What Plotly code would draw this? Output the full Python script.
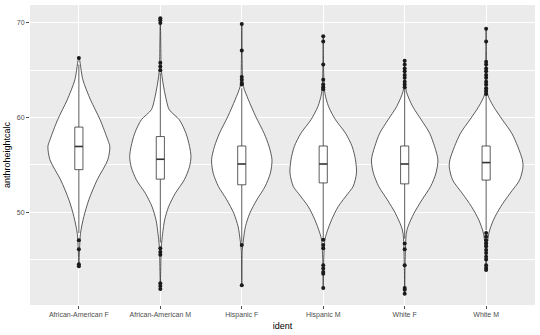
import plotly.graph_objects as go

categories = ["African-American F", "African-American M", "Hispanic F",
              "Hispanic M", "White F", "White M"]

# Violin outlines: heights (y) and half-widths (in category units)
violin_y = {
    "African-American F": [66.3, 64.0, 61.88, 59.77, 57.65, 56.95, 55.54, 53.42, 51.31, 49.54, 47.78, 46.5, 44.3],
    "African-American M": [70.5, 68.0, 65.06, 63.65, 61.88, 60.83, 59.77, 58.36, 56.95, 55.89, 54.83, 53.42, 52.01, 50.60, 49.19, 47.78, 46.37, 44.0, 41.9],
    "Hispanic F": [69.9, 64.5, 63.30, 61.88, 60.12, 58.36, 56.95, 55.54, 54.13, 52.72, 51.31, 49.89, 48.49, 47.07, 46.0, 42.3],
    "Hispanic M": [68.6, 64.5, 62.59, 61.18, 59.77, 58.36, 56.95, 55.54, 54.13, 52.72, 52.01, 50.60, 49.19, 47.78, 47.07, 45.0, 42.0],
    "White F": [66.0, 64.0, 62.77, 61.18, 59.77, 58.36, 56.95, 55.54, 54.13, 52.72, 51.31, 49.89, 48.49, 47.78, 45.0, 41.4],
    "White M": [69.4, 64.0, 62.42, 61.18, 59.77, 58.36, 56.95, 55.54, 54.83, 53.42, 52.01, 50.60, 49.19, 47.78, 46.0, 43.9],
}
violin_hw = {
    "African-American F": [0.0, 0.049, 0.143, 0.261, 0.355, 0.380, 0.355, 0.224, 0.122, 0.061, 0.020, 0.010, 0.0],
    "African-American M": [0.0, 0.005, 0.012, 0.033, 0.073, 0.110, 0.233, 0.314, 0.359, 0.376, 0.359, 0.294, 0.184, 0.102, 0.053, 0.029, 0.012, 0.005, 0.0],
    "Hispanic F": [0.0, 0.008, 0.020, 0.082, 0.171, 0.273, 0.335, 0.371, 0.351, 0.286, 0.184, 0.098, 0.045, 0.020, 0.006, 0.0],
    "Hispanic M": [0.0, 0.006, 0.020, 0.065, 0.151, 0.273, 0.355, 0.396, 0.408, 0.367, 0.306, 0.184, 0.102, 0.041, 0.020, 0.006, 0.0],
    "White F": [0.0, 0.006, 0.020, 0.098, 0.204, 0.306, 0.367, 0.408, 0.384, 0.318, 0.212, 0.114, 0.041, 0.020, 0.006, 0.0],
    "White M": [0.0, 0.008, 0.020, 0.090, 0.200, 0.314, 0.388, 0.445, 0.453, 0.412, 0.294, 0.180, 0.090, 0.033, 0.008, 0.0],
}

# Box statistics
q1 = [54.5, 53.5, 52.9, 53.1, 53.0, 53.4]
median = [56.95, 55.6, 55.1, 55.1, 55.1, 55.25]
q3 = [59.0, 58.0, 57.0, 57.0, 57.0, 57.0]
lower_whisker = [47.8, 46.8, 46.8, 47.3, 47.2, 48.1]
upper_whisker = [65.6, 64.7, 63.1, 62.8, 63.0, 62.3]

# Outliers
outliers = {
    "African-American F": [66.3, 47.05, 46.1, 44.5, 44.3],
    "African-American M": [70.5, 70.3, 70.0, 65.8, 65.4, 65.0, 46.2, 45.8, 45.5, 42.5, 42.2, 41.9],
    "Hispanic F": [69.9, 67.1, 64.3, 64.0, 63.65, 63.5, 46.55, 42.3],
    "Hispanic M": [68.6, 68.05, 65.6, 64.0, 63.5, 63.2, 63.0, 47.1, 46.55, 46.2, 44.4, 44.05, 43.7, 43.5, 42.0],
    "White F": [66.0, 65.6, 65.2, 64.9, 64.5, 64.2, 63.8, 63.5, 63.2, 46.7, 46.1, 44.4, 42.0, 41.8, 41.4],
    "White M": [69.4, 68.05, 65.9, 65.6, 65.2, 64.9, 64.5, 64.2, 63.8, 63.5, 63.1, 62.8, 62.5,
                47.8, 47.4, 47.05, 46.7, 46.4, 46.0, 45.7, 45.3, 45.0, 44.4, 44.1, 43.9],
}

LINE = "#333333"
BOX_W = 0.1

fig = go.Figure()

def add_line(xs, ys, width=0.8):
    fig.add_trace(go.Scatter(x=xs, y=ys, mode="lines", line=dict(color=LINE, width=width),
                             hoverinfo="skip", showlegend=False))

for i, cat in enumerate(categories):
    ys = violin_y[cat]
    hw = violin_hw[cat]
    xs = [i + h for h in hw] + [i - h for h in reversed(hw)]
    yy = ys + list(reversed(ys))
    fig.add_trace(go.Scatter(x=xs, y=yy, mode="lines", fill="toself",
                             fillcolor="white", line=dict(color=LINE, width=0.8, shape="spline", smoothing=0.8),
                             hoverinfo="skip", showlegend=False))

for i, cat in enumerate(categories):
    # whiskers
    add_line([i, i], [q3[i], upper_whisker[i]])
    add_line([i, i], [q1[i], lower_whisker[i]])
    # box
    h = BOX_W / 2
    fig.add_trace(go.Scatter(x=[i - h, i + h, i + h, i - h, i - h],
                             y=[q1[i], q1[i], q3[i], q3[i], q1[i]],
                             mode="lines", fill="toself", fillcolor="white",
                             line=dict(color=LINE, width=0.8),
                             hoverinfo="skip", showlegend=False))
    # median
    add_line([i - h, i + h], [median[i], median[i]], width=1.6)
    # outliers
    fig.add_trace(go.Scatter(x=[i] * len(outliers[cat]), y=outliers[cat], mode="markers",
                             marker=dict(color="#1a1a1a", size=4),
                             hoverinfo="skip", showlegend=False))

fig.update_layout(
    width=540, height=335,
    margin=dict(l=30, r=5, t=5, b=30),
    paper_bgcolor="white", plot_bgcolor="#EBEBEB",
    font=dict(family="Arial, Liberation Sans, sans-serif", size=7, color="#4D4D4D"),
    showlegend=False,
)
fig.update_xaxes(
    range=[-0.6, len(categories) - 0.4],
    tickmode="array", tickvals=list(range(len(categories))), ticktext=categories,
    showgrid=True, gridcolor="white", gridwidth=1, zeroline=False,
    ticks="outside", ticklen=3, tickcolor="#4D4D4D", tickwidth=0.8,
    tickfont=dict(size=7, color="#4D4D4D"),
    title=dict(text="ident", font=dict(size=9, color="black"), standoff=4),
)
fig.update_yaxes(
    range=[40.2, 71.9],
    tickmode="array", tickvals=[50, 60, 70],
    showgrid=True, gridcolor="white", gridwidth=1, zeroline=False,
    minor=dict(tickvals=[45, 55, 65], showgrid=True, gridcolor="white", gridwidth=0.5),
    ticks="outside", ticklen=3, tickcolor="#4D4D4D", tickwidth=0.8,
    tickfont=dict(size=7, color="#4D4D4D"),
    title=dict(text="anthroheightcalc", font=dict(size=9, color="black"), standoff=4),
)

fig.write_html("out.html")
